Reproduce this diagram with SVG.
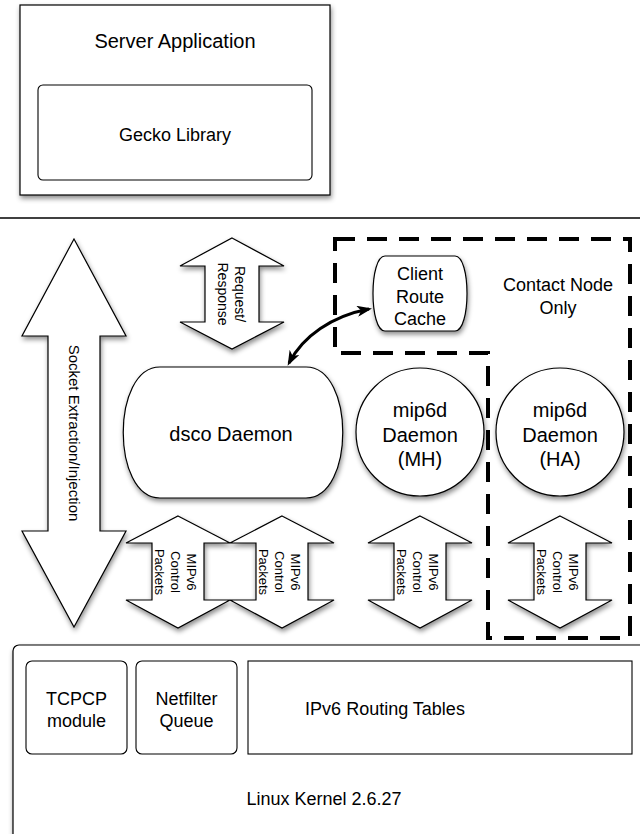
<svg xmlns="http://www.w3.org/2000/svg" width="640" height="834" viewBox="0 0 640 834">
<defs>
<filter id="sh" x="-20%" y="-20%" width="150%" height="150%">
<feDropShadow dx="1" dy="3" stdDeviation="2.5" flood-color="#000" flood-opacity="0.45"/>
</filter>
<marker id="ah" viewBox="0 0 15 11" refX="12" refY="5.5" markerWidth="15" markerHeight="11" markerUnits="userSpaceOnUse" orient="auto-start-reverse">
<path d="M0,0 L15,5.5 L0,11 L4,5.5 Z" fill="#000"/>
</marker>
<path id="mip" d="M0,516 L52,543 L26,543 L26,600 L52,600 L0,628 L-52,600 L-26,600 L-26,543 L-52,543 Z"/>
<style>
.shape{fill:#fff;stroke:#000;stroke-width:1.2;filter:url(#sh)}
.plain{fill:#fff;stroke:#000;stroke-width:1.1}
text{font-family:"Liberation Sans",Arial,Helvetica,sans-serif;fill:#000;text-anchor:middle}
.lg{font-size:20px}
.md{font-size:18px}
.sm{font-size:13px}
.rr{font-size:14px}
.sk{font-size:15px}
.dash{fill:none;stroke:#000;stroke-width:4;stroke-dasharray:20 12}
</style>
</defs>
<rect width="640" height="834" fill="#fff"/>

<g id="server-application">
<rect class="shape" x="20" y="5" width="310" height="190"/>
<text class="lg" x="175" y="48">Server Application</text>
</g>
<g id="gecko-library">
<rect class="plain" x="38" y="85" width="274" height="95" rx="5"/>
<text class="md" x="175" y="141">Gecko Library</text>
</g>

<line x1="0" y1="218" x2="640" y2="218" stroke="#000" stroke-width="1.5"/>

<g id="contact-node-only">
<path class="dash" d="M335,239 H630 V638 H488 V353 H335 Z"/>
<text class="md" x="558" y="291">Contact Node</text>
<text class="md" x="558" y="314">Only</text>
</g>

<g id="socket-arrow">
<path class="shape" d="M74,239 L126,336 L100,336 L100,531 L126,531 L74,627 L22,531 L48,531 L48,336 L22,336 Z"/>
<g transform="translate(74,433) rotate(90)"><text class="sk" x="0" y="5">Socket Extraction/Injection</text></g>
</g>

<g id="request-response">
<path class="shape" d="M232,238 L284,266 L259,266 L259,322 L284,322 L232,349 L180,322 L205,322 L205,266 L180,266 Z"/>
<g transform="translate(232,294) rotate(90)"><text class="rr"><tspan x="0" y="-3">Request/</tspan><tspan x="0" y="14">Response</tspan></text></g>
</g>

<g id="client-route-cache">
<path class="shape" d="M385,256 H455 C471,256 471,331 455,331 H385 C369,331 369,256 385,256 Z"/>
<text class="md"><tspan x="420" y="280">Client</tspan><tspan x="420" y="303">Route</tspan><tspan x="420" y="325">Cache</tspan></text>
</g>

<g id="dsco-daemon">
<path class="shape" d="M160,367 H306 C355,367 355,498 306,498 H160 C111,498 111,367 160,367 Z"/>
<text class="lg" x="231" y="441">dsco Daemon</text>
</g>

<g id="mip6d-mh">
<circle class="shape" cx="420" cy="432" r="64"/>
<text class="lg"><tspan x="420" y="417">mip6d</tspan><tspan x="420" y="442">Daemon</tspan><tspan x="420" y="466">(MH)</tspan></text>
</g>

<g id="mip6d-ha">
<circle class="shape" cx="560" cy="432" r="64"/>
<text class="lg"><tspan x="560" y="417">mip6d</tspan><tspan x="560" y="442">Daemon</tspan><tspan x="560" y="466">(HA)</tspan></text>
</g>

<g id="mipv6-1">
<use href="#mip" class="shape" transform="translate(178,0)"/>
<g transform="translate(178,572) rotate(90)"><text class="sm"><tspan x="0" y="-9">MIPv6</tspan><tspan x="0" y="7">Control</tspan><tspan x="0" y="23">Packets</tspan></text></g>
</g>
<g id="mipv6-2">
<use href="#mip" class="shape" transform="translate(282,0)"/>
<g transform="translate(282,572) rotate(90)"><text class="sm"><tspan x="0" y="-9">MIPv6</tspan><tspan x="0" y="7">Control</tspan><tspan x="0" y="23">Packets</tspan></text></g>
</g>
<g id="mipv6-3">
<use href="#mip" class="shape" transform="translate(420,0)"/>
<g transform="translate(420,572) rotate(90)"><text class="sm"><tspan x="0" y="-9">MIPv6</tspan><tspan x="0" y="7">Control</tspan><tspan x="0" y="23">Packets</tspan></text></g>
</g>
<g id="mipv6-4">
<use href="#mip" class="shape" transform="translate(560,0)"/>
<g transform="translate(560,572) rotate(90)"><text class="sm"><tspan x="0" y="-9">MIPv6</tspan><tspan x="0" y="7">Control</tspan><tspan x="0" y="23">Packets</tspan></text></g>
</g>

<g id="connectors">
<path d="M289,363 C303,336 332,316 369,309" fill="none" stroke="#000" stroke-width="3" marker-start="url(#ah)" marker-end="url(#ah)"/>
</g>

<g id="linux-kernel">
<rect class="shape" x="13" y="645" width="660" height="210" rx="6"/>
<text class="md" x="324" y="805">Linux Kernel 2.6.27</text>
</g>
<g id="tcpcp-module">
<rect class="plain" x="26" y="661" width="101" height="93" rx="6"/>
<text class="md"><tspan x="76.5" y="705">TCPCP</tspan><tspan x="76.5" y="727">module</tspan></text>
</g>
<g id="netfilter-queue">
<rect class="plain" x="136" y="661" width="101" height="93" rx="6"/>
<text class="md"><tspan x="186.5" y="705">Netfilter</tspan><tspan x="186.5" y="727">Queue</tspan></text>
</g>
<g id="ipv6-routing-tables">
<rect class="plain" x="248" y="661" width="384" height="93"/>
<text class="md" x="385" y="715">IPv6 Routing Tables</text>
</g>
</svg>
